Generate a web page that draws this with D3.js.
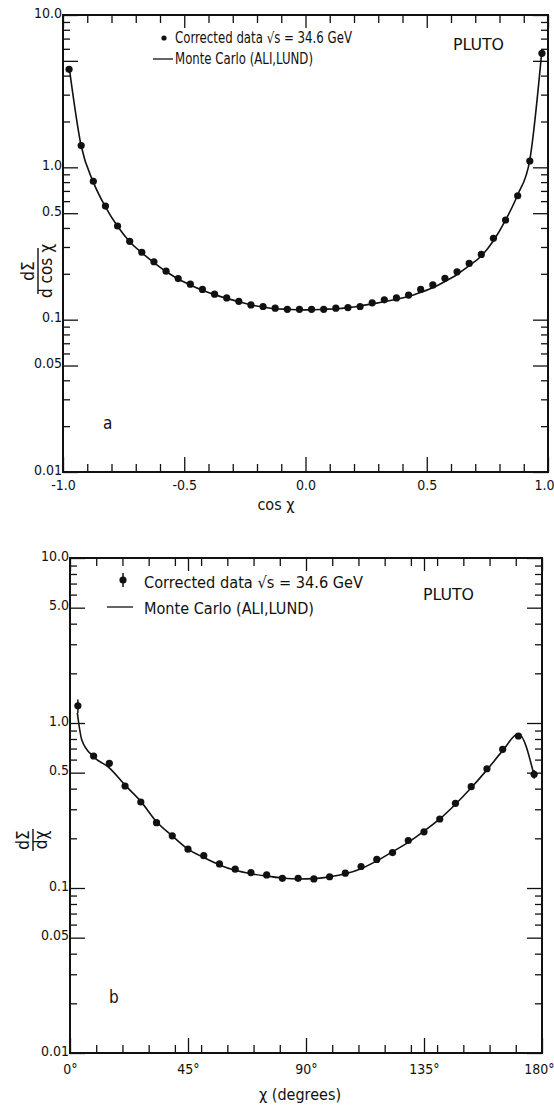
<!DOCTYPE html>
<html>
<head>
<meta charset="utf-8">
<script src="https://cdn.jsdelivr.net/npm/d3@7"></script>
<style>
  body { margin: 0; background: #fff; }
  svg text { font-family: "Liberation Sans Narrow", "DejaVu Sans Condensed", "Liberation Sans", sans-serif; fill: #111; }
</style>
</head>
<body>
<div class="canvas"></div>
<script>
// panel a: d(Sigma)/d cos(chi), bins in cos chi
const cosChi = [-0.975, -0.925, -0.875, -0.825, -0.775, -0.725, -0.675, -0.625, -0.575, -0.525,
  -0.475, -0.425, -0.375, -0.325, -0.275, -0.225, -0.175, -0.125, -0.075, -0.025,
  0.025, 0.075, 0.125, 0.175, 0.225, 0.275, 0.325, 0.375, 0.425, 0.475,
  0.525, 0.575, 0.625, 0.675, 0.725, 0.775, 0.825, 0.875, 0.925, 0.975];
const dataA = [4.4, 1.39, 0.81, 0.557, 0.412, 0.327, 0.277, 0.240, 0.208, 0.186,
  0.171, 0.158, 0.147, 0.139, 0.132, 0.125, 0.122, 0.119, 0.117, 0.117,
  0.117, 0.117, 0.119, 0.120, 0.122, 0.129, 0.135, 0.139, 0.145, 0.158,
  0.169, 0.187, 0.206, 0.234, 0.268, 0.342, 0.451, 0.651, 1.10, 5.6];
const mcA = [4.6, 1.38, 0.80, 0.55, 0.41, 0.325, 0.275, 0.237, 0.207, 0.185,
  0.169, 0.156, 0.146, 0.138, 0.131, 0.125, 0.121, 0.118, 0.117, 0.116,
  0.116, 0.117, 0.118, 0.120, 0.123, 0.127, 0.131, 0.136, 0.142, 0.151,
  0.162, 0.178, 0.198, 0.226, 0.262, 0.33, 0.45, 0.66, 1.12, 5.9];

// panel b: d(Sigma)/d chi, bins in degrees
const chiDeg = [3, 9, 15, 21, 27, 33, 39, 45, 51, 57, 63, 69, 75, 81, 87,
  93, 99, 105, 111, 117, 123, 129, 135, 141, 147, 153, 159, 165, 171, 177];
const dataB = [1.27, 0.631, 0.570, 0.415, 0.332, 0.249, 0.207, 0.172, 0.157, 0.140,
  0.130, 0.124, 0.120, 0.1145, 0.1145, 0.1135, 0.117, 0.123, 0.135, 0.149,
  0.164, 0.194, 0.219, 0.262, 0.326, 0.411, 0.528, 0.693, 0.834, 0.489];
const errB = [0.12, 0, 0, 0, 0, 0, 0, 0, 0, 0, 0, 0, 0, 0, 0,
  0, 0, 0, 0, 0, 0, 0, 0, 0, 0, 0, 0, 0, 0.03, 0.03];
const mcDegB = [2.8, 4.5, 9, 15, 21, 27, 33, 39, 45, 51, 57, 63, 69, 75, 81, 87,
  93, 99, 105, 111, 117, 123, 129, 135, 141, 147, 153, 159, 165, 171, 177];
const mcB = [1.15, 0.79, 0.625, 0.535, 0.42, 0.335, 0.252, 0.207, 0.172, 0.153, 0.138, 0.128, 0.122, 0.118, 0.115, 0.1135,
  0.114, 0.117, 0.122, 0.131, 0.146, 0.166, 0.189, 0.221, 0.262, 0.322, 0.405, 0.52, 0.68, 0.86, 0.48];

const yMajor = [0.01, 0.05, 0.1, 0.5, 1, 5, 10];
const yMinor = [0.02, 0.03, 0.04, 0.06, 0.07, 0.08, 0.09, 0.2, 0.3, 0.4, 0.6, 0.7, 0.8, 0.9, 2, 3, 4, 6, 7, 8, 9];
const yTickText = { 0.01: '0.01', 0.05: '0.05', 0.1: '0.1', 0.5: '0.5', 1: '1.0', 5: '5.0', 10: '10.0' };
const xMajorA = [-1, -0.5, 0, 0.5, 1];
const xLabelsA = ['-1.0', '-0.5', '0.0', '0.5', '1.0'];
const xMinorA = [-0.9, -0.8, -0.7, -0.6, -0.4, -0.3, -0.2, -0.1, 0.1, 0.2, 0.3, 0.4, 0.6, 0.7, 0.8, 0.9];
const xMajorB = [0, 45, 90, 135, 180];
const xLabelsB = ['0°', '45°', '90°', '135°', '180°'];
const xMinorB = [10, 20, 30, 40, 50, 60, 70, 80, 100, 110, 120, 130, 140, 150, 160, 170];

const svg = d3.select('.canvas')
  .append('svg')
  .attr('width', 554)
  .attr('height', 1109);

function drawPanel(p) {
  const x = d3.scaleLinear().domain(p.xDomain).range([p.left, p.right]);
  const y = d3.scaleLog().domain([0.01, 10]).range([p.bottom, p.top]);
  const g = svg.append('g');

  // ticks, all pointing into the frame
  const addAxis = (axis, tx, ty, vals, len, fmt, pad) => {
    const a = g.append('g')
      .attr('transform', `translate(${tx},${ty})`)
      .call(axis.tickValues(vals).tickSize(-len).tickPadding(pad || 2).tickFormat(fmt));
    a.select('.domain').remove();
    a.selectAll('line').attr('stroke', '#111').attr('stroke-width', 1.3);
    a.selectAll('text').attr('font-size', 14).attr('fill', '#111');
    return a;
  };
  const none = () => '';
  const ylabels = v => (p.yLabels.includes(v) ? yTickText[v] : '');
  addAxis(d3.axisLeft(y), p.left, 0, yMinor, 7, none);
  const yl = addAxis(d3.axisLeft(y), p.left, 0, yMajor, 15, ylabels, 1);
  yl.selectAll('text').attr('dy', '0.15em');
  addAxis(d3.axisRight(y), p.right, 0, yMinor, 7, none);
  addAxis(d3.axisRight(y), p.right, 0, yMajor, 15, none);
  addAxis(d3.axisBottom(x), 0, p.bottom, p.xMinor, 8, none);
  const xb = addAxis(d3.axisBottom(x), 0, p.bottom, p.xMajor, 15, (d, i) => p.xLabels[i], 0);
  xb.selectAll('text').attr('dy', 0).attr('y', p.xLabelY);
  // last label sits against the page edge
  xb.selectAll('.tick:last-of-type text').attr('text-anchor', 'end').attr('x', 554 - p.right);
  addAxis(d3.axisTop(x), 0, p.top, p.xMinor, 8, none);
  addAxis(d3.axisTop(x), 0, p.top, p.xMajor, 13, none);

  g.append('rect')
    .attr('x', p.left).attr('y', p.top)
    .attr('width', p.right - p.left).attr('height', p.bottom - p.top)
    .attr('fill', 'none').attr('stroke', '#111').attr('stroke-width', 2);

  // Monte Carlo curve
  const line = d3.line()
    .x(d => x(d[0])).y(d => y(d[1]))
    .curve(d3.curveMonotoneX);
  g.append('path')
    .datum(d3.zip(p.mcX, p.mcY))
    .attr('d', line)
    .attr('fill', 'none').attr('stroke', '#111').attr('stroke-width', 1.6);

  // data points
  const pts = d3.zip(p.dX, p.dY, p.err || p.dX.map(() => 0));
  g.selectAll('.eb').data(pts.filter(d => d[2] > 0)).join('line')
    .attr('x1', d => x(d[0])).attr('x2', d => x(d[0]))
    .attr('y1', d => y(d[1] + d[2])).attr('y2', d => y(d[1] - d[2]))
    .attr('stroke', '#111').attr('stroke-width', 1.5);
  g.selectAll('.pt').data(pts).join('circle')
    .attr('cx', d => x(d[0])).attr('cy', d => y(d[1]))
    .attr('r', 3.6).attr('fill', '#111');

  // axis title
  g.append('text').attr('x', p.xTitleX).attr('y', p.xTitleY)
    .attr('text-anchor', 'middle').attr('font-size', 16).text(p.xTitle);

  // y title as a rotated fraction
  const yt = g.append('g').attr('transform', `translate(${p.yTitle[0]},${p.yTitle[1]}) rotate(-90)`);
  yt.append('text').attr('y', -4).attr('text-anchor', 'middle').attr('font-size', 17).text('dΣ');
  yt.append('line').attr('x1', -p.fracW / 2).attr('x2', p.fracW / 2).attr('stroke', '#111').attr('stroke-width', 1.4);
  yt.append('text').attr('y', 14).attr('text-anchor', 'middle').attr('font-size', 17).text(p.denom);

  // panel letter and experiment name
  g.append('text').attr('x', p.letter[0]).attr('y', p.letter[1]).attr('font-size', 17).text(p.letter[2]);
  g.append('text').attr('x', p.pluto[0]).attr('y', p.pluto[1]).attr('font-size', 16)
    .attr('textLength', 51).attr('lengthAdjust', 'spacingAndGlyphs').text('PLUTO');

  // legend
  const L = p.legend;
  if (L.bar) {
    g.append('line').attr('x1', L.dot[0]).attr('x2', L.dot[0])
      .attr('y1', L.dot[1] - 7).attr('y2', L.dot[1] + 7).attr('stroke', '#111').attr('stroke-width', 1.5);
  }
  g.append('circle').attr('cx', L.dot[0]).attr('cy', L.dot[1]).attr('r', L.r).attr('fill', '#111');
  g.append('text').attr('x', L.tx).attr('y', L.y1).attr('font-size', L.fs)
    .attr('textLength', L.w1).attr('lengthAdjust', 'spacingAndGlyphs')
    .text('Corrected data √s = 34.6 GeV');
  g.append('line').attr('x1', L.line[0]).attr('x2', L.line[1])
    .attr('y1', L.line[2]).attr('y2', L.line[2]).attr('stroke', '#111').attr('stroke-width', 1.3);
  g.append('text').attr('x', L.tx).attr('y', L.y2).attr('font-size', L.fs)
    .attr('textLength', L.w2).attr('lengthAdjust', 'spacingAndGlyphs')
    .text('Monte Carlo (ALI,LUND)');
}

drawPanel({
  left: 63, right: 548, top: 15, bottom: 472,
  xDomain: [-1, 1], xMajor: xMajorA, xMinor: xMinorA, xLabels: xLabelsA, xLabelY: 18,
  yLabels: [0.01, 0.05, 0.1, 0.5, 1, 10],
  dX: cosChi, dY: dataA, mcX: cosChi, mcY: mcA,
  xTitle: 'cos χ', xTitleX: 276, xTitleY: 510,
  yTitle: [38, 271], denom: 'd cos χ', fracW: 46,
  letter: [103, 429, 'a'], pluto: [453, 50],
  legend: { dot: [164, 38], r: 2.6, tx: 175, y1: 43, y2: 64, fs: 15, w1: 177, w2: 138, line: [153, 173, 59] }
});

drawPanel({
  left: 70, right: 542, top: 558, bottom: 1053,
  xDomain: [0, 180], xMajor: xMajorB, xMinor: xMinorB, xLabels: xLabelsB, xLabelY: 21,
  yLabels: [0.01, 0.05, 0.1, 0.5, 1, 5, 10],
  dX: chiDeg, dY: dataB, err: errB, mcX: mcDegB, mcY: mcB,
  xTitle: 'χ (degrees)', xTitleX: 300, xTitleY: 1100,
  yTitle: [33, 840], denom: 'dχ', fracW: 22,
  letter: [109, 1003, 'b'], pluto: [423, 600],
  legend: { dot: [123, 580], r: 3.6, bar: true, tx: 144, y1: 588, y2: 614, fs: 16, w1: 219, w2: 170, line: [107, 133, 607] }
});
</script>
</body>
</html>
